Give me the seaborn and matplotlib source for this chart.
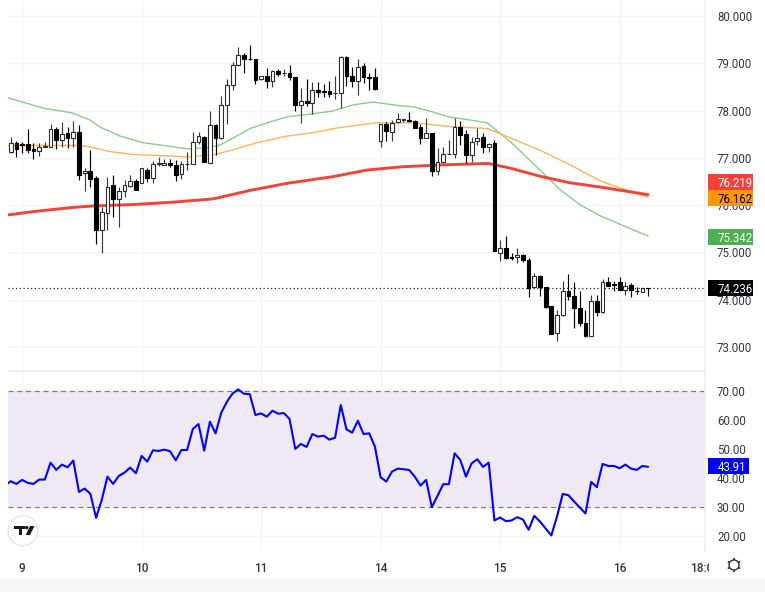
#!/usr/bin/env python3
"""Candlestick chart with three moving averages and an RSI pane."""

import numpy as np
import matplotlib
matplotlib.use("Agg")
import matplotlib.pyplot as plt
from matplotlib.patches import Rectangle, Circle, Polygon
from matplotlib.transforms import Affine2D, Bbox
import seaborn as sns

W, H = 765, 592

opens = [77.13, 77.31, 77.29, 77.29, 77.18, 77.15, 77.23, 77.22, 77.60, 77.38,
         77.52, 77.42, 77.55, 76.67, 76.71, 76.57, 75.47, 75.84, 76.42, 76.12,
         76.30, 76.41, 76.51, 76.47, 76.75, 76.58, 76.86, 76.85, 76.89, 76.85,
         76.65, 76.86, 76.87, 77.33, 77.43, 76.89, 77.69, 77.41, 78.11, 78.55,
         78.96, 79.18, 79.10, 79.08, 78.66, 78.72, 78.63, 78.84, 78.79, 78.79,
         78.70, 78.11, 78.21, 78.15, 78.43, 78.41, 78.41, 78.37, 78.38, 79.14,
         78.72, 78.63, 78.94, 78.70, 78.70, 77.35, 77.71, 77.55, 77.75, 77.80,
         77.79, 77.77, 77.66, 77.42, 77.52, 76.71, 76.90, 77.08, 77.07, 77.66,
         77.50, 77.06, 77.35, 77.43, 77.23, 77.32, 74.98, 75.10, 74.90, 74.91,
         74.94, 74.84, 74.26, 74.50, 74.26, 73.86, 73.30, 73.67, 74.17, 74.08,
         73.81, 73.50, 73.23, 73.97, 73.73, 74.36, 74.32, 74.38, 74.21, 74.31,
         74.18, 74.15, 74.24]
highs = [77.43, 77.36, 77.34, 77.60, 77.31, 77.32, 77.34, 77.71, 77.66, 77.76,
         77.66, 77.78, 77.69, 76.78, 77.16, 76.61, 75.96, 76.60, 76.63, 76.39,
         76.53, 76.63, 76.56, 76.79, 76.78, 76.94, 77.02, 76.97, 76.97, 76.95,
         76.94, 77.12, 77.55, 77.55, 77.45, 77.98, 77.71, 78.31, 78.66, 79.03,
         79.35, 79.22, 79.39, 79.08, 78.72, 78.89, 78.86, 78.87, 78.87, 78.96,
         78.70, 78.47, 78.66, 78.61, 78.61, 78.57, 78.63, 78.72, 79.15, 79.15,
         78.93, 79.10, 79.00, 78.80, 78.91, 77.72, 77.76, 77.80, 77.95, 77.83,
         77.97, 77.80, 77.71, 77.85, 77.53, 77.20, 77.22, 77.38, 77.85, 77.78,
         77.59, 77.43, 77.62, 77.52, 77.32, 77.37, 75.26, 75.34, 74.99, 75.08,
         74.96, 74.87, 74.57, 74.52, 74.27, 73.87, 73.78, 74.40, 74.53, 74.38,
         74.17, 73.78, 74.10, 74.10, 74.43, 74.48, 74.39, 74.47, 74.38, 74.34,
         74.27, 74.24, 74.24]
lows = [77.11, 77.01, 77.11, 77.11, 76.98, 77.04, 77.22, 77.22, 77.18, 77.23,
        77.21, 77.22, 76.53, 76.30, 76.39, 75.17, 74.98, 75.47, 75.74, 75.54,
        76.18, 76.39, 76.32, 76.46, 76.49, 76.47, 76.83, 76.84, 76.81, 76.51,
        76.56, 76.74, 76.87, 77.30, 76.90, 76.88, 77.06, 77.40, 77.71, 78.43,
        78.94, 78.79, 79.07, 78.57, 78.65, 78.47, 78.50, 78.73, 78.72, 78.65,
        77.98, 77.74, 78.10, 77.93, 78.29, 78.29, 78.29, 78.24, 78.05, 78.52,
        78.50, 78.33, 78.59, 78.43, 78.43, 77.22, 77.36, 77.36, 77.73, 77.76,
        77.76, 77.63, 77.30, 77.41, 76.61, 76.63, 76.88, 77.07, 76.99, 77.27,
        76.88, 76.90, 77.27, 77.11, 77.13, 75.03, 74.82, 74.85, 74.84, 74.78,
        74.80, 74.06, 74.24, 74.07, 73.81, 73.27, 73.13, 73.66, 74.00, 73.39,
        73.43, 73.21, 73.23, 73.65, 73.72, 74.29, 74.19, 74.20, 74.09, 74.06,
        74.12, 74.15, 74.07]
closes = [77.31, 77.19, 77.28, 77.16, 77.15, 77.23, 77.25, 77.60, 77.38, 77.50,
          77.42, 77.55, 76.64, 76.71, 76.54, 75.47, 75.85, 76.39, 76.12, 76.30,
          76.42, 76.51, 76.32, 76.78, 76.58, 76.87, 76.88, 76.89, 76.85, 76.64,
          76.86, 76.87, 77.33, 77.45, 76.90, 77.69, 77.41, 78.11, 78.55, 78.96,
          79.18, 79.09, 79.08, 78.65, 78.72, 78.63, 78.84, 78.77, 78.80, 78.70,
          78.11, 78.21, 78.15, 78.43, 78.40, 78.40, 78.36, 78.38, 79.14, 78.72,
          78.63, 78.93, 78.70, 78.69, 78.45, 77.71, 77.56, 77.74, 77.81, 77.81,
          77.77, 77.64, 77.41, 77.52, 76.71, 76.90, 77.09, 77.09, 77.66, 77.49,
          77.06, 77.33, 77.42, 77.22, 77.30, 75.03, 75.10, 74.87, 74.88, 74.95,
          74.84, 74.24, 74.50, 74.26, 73.85, 73.28, 73.68, 74.17, 74.07, 73.81,
          73.50, 73.23, 73.96, 73.73, 74.36, 74.29, 74.31, 74.21, 74.29, 74.20,
          74.17, 74.24, 74.236]

green_idx = [-0.47, 5.7, 10.8, 13.9, 15.7, 19.2, 23.2, 27.5, 31, 34.5, 36.8, 39.1, 42.1, 45.6, 48.7, 53.1,
             56.6, 60.2, 63.7, 68.4, 70.7, 74.2, 76.7, 80.7, 83.7, 87.8, 93, 96.6, 100.1, 103.6, 112]
green_ma = [78.27, 78.05, 77.95, 77.80, 77.65, 77.46, 77.32, 77.25, 77.19, 77.21, 77.27, 77.42, 77.62, 77.76,
            77.87, 77.93, 77.99, 78.12, 78.18, 78.10, 78.08, 77.97, 77.87, 77.80, 77.74, 77.34, 76.74, 76.32,
            76.00, 75.77, 75.342]
orange_idx = [-0.47, 1.6, 12.2, 13.9, 17.5, 21.5, 27.5, 31, 35.6, 39.1, 43.3, 48.6, 53.1, 57.3, 60.9, 64.4,
              68.4, 70.7, 77.2, 83.7, 87.8, 93, 98.3, 103.6, 112]
orange_ma = [77.25, 77.26, 77.26, 77.23, 77.13, 77.07, 77.04, 77.02, 77.06, 77.17, 77.32, 77.46, 77.53, 77.63,
             77.69, 77.74, 77.74, 77.74, 77.66, 77.62, 77.42, 77.16, 76.85, 76.51, 76.162]
red_idx = [-0.47, 3.9, 11, 14.5, 21.5, 28.5, 35.6, 42.1, 48.6, 56.6, 62.6, 68.9, 76, 83.9, 87.8, 93, 98.3,
           103.6, 112]
red_ma = [75.79, 75.86, 75.95, 75.98, 76.01, 76.06, 76.13, 76.31, 76.46, 76.60, 76.74, 76.81, 76.85, 76.88,
          76.78, 76.61, 76.47, 76.38, 76.219]

rsi = [37.5, 38.94, 38.02, 39.40, 38.37, 38.02, 39.51, 39.51, 45.36, 42.84, 44.67, 43.75, 46.05, 35.27, 36.42,
       34.58, 26.33, 32.52, 40.54, 38.02, 40.77, 41.92, 43.64, 41.69, 47.65, 45.70, 49.60, 49.37, 49.83,
       49.26, 46.16, 49.71, 49.71, 56.93, 58.65, 49.48, 59.46, 55.44, 62.55, 66.33, 69.20, 70.57, 69.08,
       68.97, 61.75, 62.32, 61.17, 63.24, 62.21, 62.44, 60.37, 50.06, 51.78, 50.75, 55.21, 54.30, 54.64,
       53.27, 53.95, 65.19, 56.82, 55.67, 59.80, 55.21, 55.44, 50.86, 40.31, 38.83, 42.26, 43.29, 43.07,
       42.84, 40.54, 37.45, 39.40, 30.00, 33.90, 37.91, 37.91, 48.57, 46.28, 40.54, 45.13, 46.50, 43.87,
       45.36, 25.42, 26.45, 25.19, 25.42, 26.56, 25.76, 22.21, 27.02, 25.07, 22.66, 20.26, 26.79, 34.58,
       34.13, 31.95, 29.89, 27.82, 38.71, 36.88, 44.90, 44.21, 44.21, 43.41, 44.67, 43.29, 42.84, 44.21,
       43.91]

price_ticks = [73, 74, 75, 76, 77, 78, 79, 80]
price_labels = ["73.000", "74.000", "75.000", "76.000", "77.000", "78.000", "79.000", "80.000"]
rsi_ticks = [20, 30, 40, 50, 60, 70]
rsi_labels = ["20.00", "30.00", "40.00", "50.00", "60.00", "70.00"]
day_ticks = [2, 23, 44, 65, 86, 107, 122]
day_labels = ["9", "10", "11", "14", "15", "16", "18:00"]
last_price = 74.236

GRID = "#f3f3f6"
TEXT = "#333640"

sns.set_theme(style="white")
plt.rcParams["font.family"] = ["Roboto", "DejaVu Sans"]

fig = plt.figure(figsize=(W / 100, H / 100), dpi=100, facecolor="white")
# pixel coordinates measured from the top left, for decoration only
px = Affine2D().scale(1, -1).translate(0, H)


def pane(top, bottom):
    return fig.add_axes([8 / W, (H - bottom) / H, (705 - 8) / W, (bottom - top) / H])


ax = pane(0, 370)
ax_rsi = pane(371.5, 551)
xlim = (-0.475, 122.0)

for a, ticks, labels, ylim in [
    (ax, price_ticks, price_labels, (72.508, 80.339)),
    (ax_rsi, rsi_ticks, rsi_labels, (14.9, 76.75)),
]:
    a.set_xlim(*xlim)
    a.set_ylim(*ylim)
    a.set_yticks(ticks, labels)
    a.set_xticks(day_ticks)
    a.yaxis.tick_right()
    a.tick_params(axis="y", length=0, pad=8.6, labelsize=8.3, labelcolor=TEXT)
    a.grid(True, color=GRID, linewidth=1)
    a.set_axisbelow(True)
    for name, sp in a.spines.items():
        sp.set_visible(name == "right")
        sp.set_color("#eeeff3")
    a.set_xlabel("")
    a.set_ylabel("")

ax.tick_params(axis="x", length=0, labelbottom=False)
ax_rsi.set_xticks(day_ticks, day_labels)
ax_rsi.tick_params(axis="x", length=3, color=GRID, pad=5, labelsize=8.6, labelcolor=TEXT)
for lab in ax_rsi.get_xticklabels():
    lab.set_fontweight("medium")
    lab.set_clip_on(True)
    lab.set_clip_box(Bbox([[0, 0], [708.5, H]]))

# moving averages sit under the candles
for idx, vals, col, lw in [
    (green_idx, green_ma, "#8ccb8f", 1.0),
    (orange_idx, orange_ma, "#ffb45c", 1.0),
    (red_idx, red_ma, "#f2443a", 2.1),
]:
    sns.lineplot(x=idx, y=vals, ax=ax, color=col, linewidth=lw, estimator=None, sort=False, zorder=2)

o, h, l, c = map(np.array, (opens, highs, lows, closes))
xs = np.arange(len(o))
up = c >= o
wick_col = np.where(up, "#3c3c3c", "#000000")
ax.vlines(xs, l, h, colors=wick_col, linewidth=0.85, zorder=3)
ax.bar(xs[up], (c - o)[up], bottom=o[up], width=0.66, facecolor="white", edgecolor="#2c2c2c", linewidth=0.8, zorder=4)
ax.bar(xs[~up], (o - c)[~up], bottom=c[~up], width=0.66, facecolor="black", edgecolor="black", linewidth=0.8, zorder=4)

ax.axhline(last_price, color="#222222", linewidth=0.9, linestyle=(0, (1, 2)), zorder=3)

# RSI pane
ax_rsi.axhspan(30, 70, facecolor="#efe9f5", edgecolor="none", zorder=1)
for level in (30, 70):
    ax_rsi.axhline(level, color="#7d7f88", linewidth=0.9, linestyle=(0, (4, 3)), zorder=2)
rsi_x = np.arange(len(rsi)) - 1
sns.lineplot(x=rsi_x, y=rsi, ax=ax_rsi, color="#0000ff", linewidth=1.5, estimator=None, sort=False, zorder=3)

# separators and the page strip at the bottom
fig.add_artist(Rectangle((8, 370), 697, 1.6, transform=px, facecolor="#eaedf4", edgecolor="none"))
fig.add_artist(Rectangle((0, 578), W, 14, transform=px, facecolor="#f7f7f8", edgecolor="none"))

# value tags on the price scale
for label, y0, y1, x1, bg, fg in [
    ("76.219", 174, 190, 753, "#f44336", "white"),
    ("76.162", 190, 206, 753, "#ff9800", "black"),
    ("75.342", 229, 245, 753, "#4caf50", "white"),
    ("74.236", 280, 296, 753, "#000000", "white"),
    ("43.91", 458, 474, 749, "#0000ff", "white"),
]:
    fig.add_artist(Rectangle((708, y0), x1 - 708, y1 - y0, transform=px, facecolor=bg, edgecolor="none", zorder=5))
    fig.text(717.5, (y0 + y1) / 2, label, transform=px, color=fg, fontsize=8.3, ha="left", va="center_baseline", zorder=6)

# TradingView mark
fig.add_artist(Circle((23, 530.7), 15, transform=px, facecolor="white", edgecolor="#e4e5e9", linewidth=1, zorder=5))
for pts in [
    [(14, 526), (24.5, 526), (24.5, 529), (22, 529), (22, 535), (18.5, 535), (18.5, 529), (14, 529)],
    [(30, 526), (34.5, 526), (30, 535), (25.7, 535)],
]:
    fig.add_artist(Polygon(pts, closed=True, transform=px, facecolor="#15171e", edgecolor="none", zorder=6))
fig.add_artist(Circle((26.7, 527.6), 1.7, transform=px, facecolor="#15171e", edgecolor="none", zorder=6))

# settings icon
fig.add_artist(Circle((734, 565), 5, transform=px, facecolor="none", edgecolor="#30323a", linewidth=1, zorder=5))
for ang in np.deg2rad(np.arange(0, 360, 60) + 30):
    fig.add_artist(Circle((734 + 6.2 * np.cos(ang), 565 + 6.2 * np.sin(ang)), 1.0, transform=px,
                          facecolor="#30323a", edgecolor="none", zorder=5))

fig.savefig("out.png", dpi=100)
